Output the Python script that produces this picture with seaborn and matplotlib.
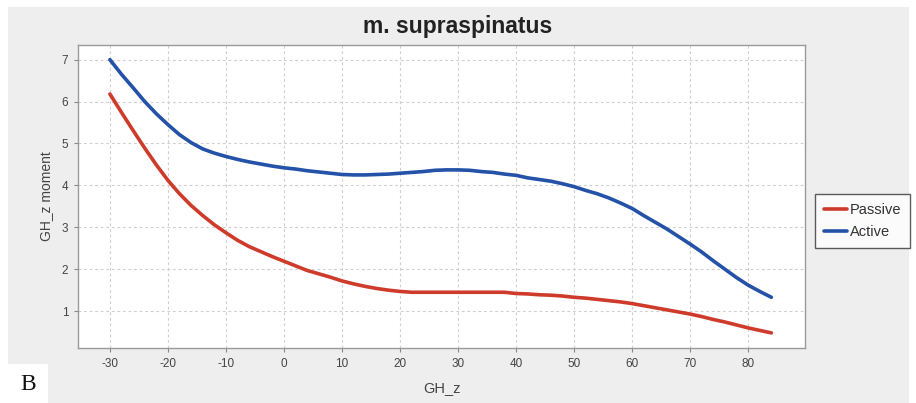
import numpy as np
import pandas as pd
import matplotlib
matplotlib.use("Agg")
import matplotlib.pyplot as plt
from matplotlib.patches import Rectangle
import seaborn as sns

gh_z = list(range(-30, 86, 2))

active = [7.00, 6.65, 6.33, 6.00, 5.71, 5.45, 5.21, 5.02, 4.87, 4.77,
          4.69, 4.62, 4.56, 4.51, 4.46, 4.42, 4.39, 4.35, 4.32, 4.29,
          4.26, 4.25, 4.25, 4.26, 4.27, 4.29, 4.31, 4.33, 4.36, 4.37,
          4.37, 4.36, 4.33, 4.31, 4.27, 4.24, 4.18, 4.14, 4.10, 4.04,
          3.97, 3.88, 3.80, 3.70, 3.58, 3.45, 3.28, 3.12, 2.96, 2.78,
          2.60, 2.41, 2.20, 2.00, 1.80, 1.62, 1.47, 1.33]

passive = [6.18, 5.74, 5.31, 4.89, 4.49, 4.12, 3.80, 3.52, 3.28, 3.06,
           2.87, 2.69, 2.54, 2.42, 2.30, 2.19, 2.08, 1.97, 1.89, 1.81,
           1.72, 1.65, 1.59, 1.54, 1.50, 1.47, 1.45, 1.45, 1.45, 1.45,
           1.45, 1.45, 1.45, 1.45, 1.45, 1.42, 1.41, 1.39, 1.38, 1.36,
           1.33, 1.31, 1.28, 1.25, 1.22, 1.18, 1.13, 1.08, 1.03, 0.98,
           0.93, 0.87, 0.80, 0.74, 0.67, 0.60, 0.54, 0.48]

series_names = ["Passive", "Active"]
series_colors = ["#cf3b2b", "#2452a8"]
x_ticks = list(range(-30, 81, 10))
y_ticks = [1, 2, 3, 4, 5, 6, 7]

df = pd.DataFrame({
    "GH_z": gh_z * 2,
    "moment": passive + active,
    "series": [series_names[0]] * len(gh_z) + [series_names[1]] * len(gh_z),
})

sns.set_theme(style="white")
plt.rcParams["font.family"] = ["Liberation Sans", "DejaVu Sans"]

W, H = 916, 403
fig = plt.figure(figsize=(W / 100, H / 100), dpi=100, facecolor="white")
# grey panel
panel = Rectangle((8 / W, 0), (909 - 8) / W, 1 - 7 / H,
                  transform=fig.transFigure, facecolor="#eeeeee",
                  edgecolor="none", zorder=-10)
fig.add_artist(panel)

ax = fig.add_axes([78 / W, 1 - 348 / H, (805 - 78) / W, (348 - 45) / H])
ax.set_zorder(5)
ax.set_facecolor("white")

sns.lineplot(data=df, x="GH_z", y="moment", hue="series",
             palette=dict(zip(series_names, series_colors)),
             linewidth=2.6, ax=ax, legend=False)

ax.set_xlim(-35.5, 89.8)
ax.set_ylim(0.12, 7.35)
ax.set_xticks(x_ticks)
ax.set_yticks(y_ticks)
ax.set_xticklabels([str(t) for t in x_ticks])
ax.tick_params(axis="both", which="both", direction="out", length=3,
               width=0.8, color="#888888", labelsize=8.5, labelcolor="#444444",
               bottom=True, left=True, pad=4)
ax.grid(True, color="#cfcfcf", linestyle=(0, (2.5, 2.5)), linewidth=0.8)
ax.set_axisbelow(True)
for s in ax.spines.values():
    s.set_color("#9a9a9a")
    s.set_linewidth(1.0)

ax.set_xlabel("GH_z", fontsize=10.5, color="#444444", labelpad=8)
ax.set_ylabel("GH_z moment", fontsize=10, color="#444444", labelpad=6)

fig.text(458 / W, 1 - 26 / H, "m. supraspinatus", ha="center", va="center",
         fontsize=16.5, fontweight="bold", color="#222222",
         family=["Liberation Sans Narrow", "Liberation Sans", "DejaVu Sans"],
         fontstretch="condensed", zorder=10)

handles = [plt.Line2D([], [], color=c, linewidth=2.6) for c in series_colors]
leg = fig.legend(handles, series_names, loc="lower left",
                 bbox_to_anchor=(815 / W, 1 - 248 / H), frameon=True,
                 fancybox=False, fontsize=10.5, handlelength=1.6,
                 handletextpad=0.2, borderpad=0.6, labelspacing=0.55,
                 borderaxespad=0)
leg.set_zorder(10)
leg.get_frame().set_edgecolor("#333333")
leg.get_frame().set_linewidth(1.0)
for t in leg.get_texts():
    t.set_color("#333333")

# "B" label box
fig.add_artist(Rectangle((8 / W, 0), 40 / W, 39 / H,
                         transform=fig.transFigure, facecolor="white",
                         edgecolor="none", zorder=-5))
fig.text(28 / W, 19 / H, "B", ha="center", va="center", fontsize=17,
         family=["Liberation Serif", "DejaVu Serif"], color="#111111", zorder=10)

fig.savefig("out.png", dpi=100, facecolor="white")
